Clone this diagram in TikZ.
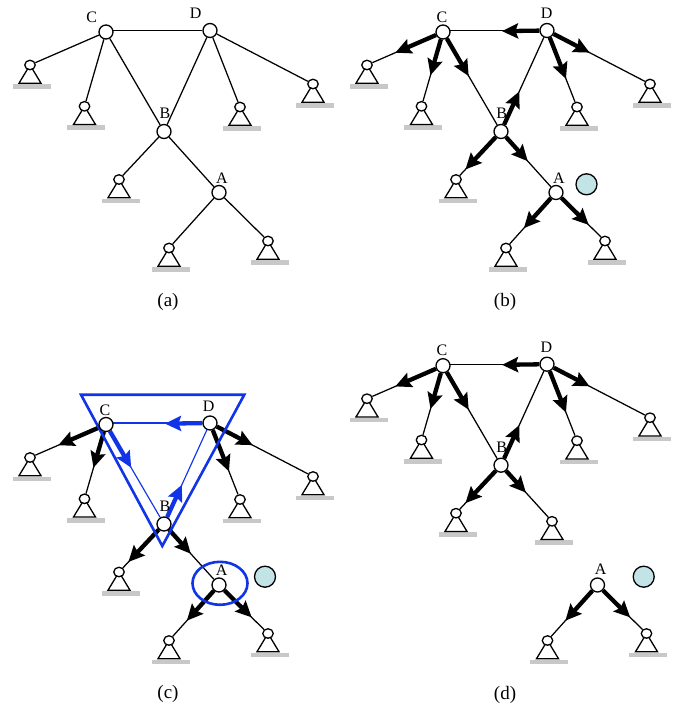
\documentclass[tikz,border=0pt]{standalone}
\usepackage{fontspec}
\setmainfont{Liberation Serif}
\usetikzlibrary{arrows.meta,calc,shapes.geometric}
\pgfdeclarelayer{back}
\pgfdeclarelayer{mid}
\pgfsetlayers{back,mid,main}
\definecolor{tealfill}{HTML}{C2E4E6}
\definecolor{barcol}{HTML}{C8C8C8}
\definecolor{loopblue}{HTML}{1034E6}
\tikzset{
  jointnode/.style={circle,draw=black,fill=white,line width=1.3pt,minimum size=14pt,inner sep=0pt},
  pinnode/.style={ellipse,draw=black,fill=white,line width=1.3pt,minimum width=10.5pt,minimum height=9.5pt,inner sep=0pt},
  linkline/.style={draw=black,line width=1.25pt},
  bluelink/.style={draw=loopblue,line width=1.15pt},
  heavyline/.style={line width=4.3pt,-{Stealth[length=16pt,width=15pt,inset=2.5pt]}},
  labeltext/.style={inner sep=0pt,font=\fontsize{16}{18}\selectfont},
  captiontext/.style={inner sep=0pt,font=\fontsize{19}{21}\selectfont},
  ballnode/.style={circle,draw=black,fill=tealfill,line width=1.3pt,minimum size=21pt,inner sep=0pt},
  loopline/.style={draw=loopblue,line width=2.6pt,line join=miter},
}
% name, x, y
\newcommand{\pivotat}[3]{%
  \node[pinnode] (#1) at (#2,#3) {};
  \begin{pgfonlayer}{back}
    \fill[barcol] ($(#1)+(-17.5,19)$) rectangle ($(#1)+(20.5,23.7)$);
    \draw[black,line width=1.3pt,line join=miter] ($(#1)+(-11,18.2)$) -- (#1.center) -- ($(#1)+(11,18.2)$) -- cycle;
  \end{pgfonlayer}}
% heavy part: colour, from, to, distance
\newcommand{\force}[4][black]{%
  \begin{pgfonlayer}{back}
    \draw[#1,heavyline] (#2) -- ($(#2)!#4pt!(#3)$);
  \end{pgfonlayer}}
\newcommand{\thinlink}[3][linkline]{%
  \begin{pgfonlayer}{back}
    \draw[#1] (#2) -- (#3);
  \end{pgfonlayer}}
% horizontal bar between C and D
\newcommand{\topbar}[1][linkline]{%
  \begin{pgfonlayer}{back}
    \draw[#1] (D) -- (D -| C);
  \end{pgfonlayer}}
\newcommand{\upperpart}{%
  \node[jointnode] (C) at (106,32) {};
  \node[jointnode] (D) at (210,30.5) {};
  \node[jointnode] (B) at (164,131.5) {};
  \pivotat{p1}{30}{65}
  \pivotat{p2}{84.5}{106.3}
  \pivotat{p3}{119}{179.5}
  \pivotat{p6}{240}{107}
  \pivotat{p7}{313}{84}
}
\newcommand{\lowerpart}{%
  \node[jointnode] (A) at (219,192.5) {};
  \pivotat{p4}{169}{248}
  \pivotat{p5}{268}{241}
}
\newcommand{\upperthin}{%
  \thinlink{C}{p1}\thinlink{C}{p2}\thinlink{D}{p6}\thinlink{D}{p7}\thinlink{B}{p3}}
\newcommand{\lowerthin}{\thinlink{A}{p4}\thinlink{A}{p5}}
\newcommand{\outerforces}{%
  \force{C}{p1}{52}\force{C}{p2}{45}\force{D}{p6}{52}\force{D}{p7}{48}\force{B}{p3}{52}}
\newcommand{\lowerforces}{\force{A}{p4}{48}\force{A}{p5}{46}}
\begin{document}
\begin{tikzpicture}[x=1pt,y=-1pt]
\useasboundingbox (0,0) rectangle (678,709);
% ---------- (a)
\begin{scope}[name prefix=a-]
  \upperpart\lowerpart\upperthin\lowerthin
  \topbar\thinlink{C}{B}\thinlink{D}{B}\thinlink{B}{A}
  \node[labeltext] (lC) at (91.7,17) {C};
  \node[labeltext] (lD) at (195.7,13.5) {D};
  \node[labeltext] (lB) at (165,113) {B};
  \node[labeltext] (lA) at (222,178) {A};
  \node[captiontext] (captext) at (168,302) {(a)};
\end{scope}
% ---------- (b)
\begin{scope}[shift={(337,0)},name prefix=b-]
  \upperpart\lowerpart\upperthin\lowerthin\outerforces\lowerforces
  \topbar\thinlink{C}{B}\thinlink{D}{B}\thinlink{B}{A}
  \force{D}{C}{45}\force{C}{B}{51}\force{B}{D}{44}\force{B}{A}{40}
  \node[labeltext] (lC) at (105,17) {C};
  \node[labeltext] (lD) at (209.7,13.5) {D};
  \node[labeltext] (lB) at (164.7,113) {B};
  \node[labeltext] (lA) at (222,178) {A};
  \node[ballnode] (m) at (249.5,184.3) {};
  \node[captiontext] (captext) at (168,302) {(b)};
\end{scope}
% ---------- (c)
\begin{scope}[shift={(0,392.5)},name prefix=c-]
  \upperpart\lowerpart\upperthin\lowerthin\outerforces\lowerforces
  \topbar[bluelink]\thinlink[bluelink]{C}{B}\thinlink[bluelink]{D}{B}\thinlink{B}{A}
  \force[loopblue]{D}{C}{45}\force[loopblue]{C}{B}{50}\force[loopblue]{B}{D}{43}\force{B}{A}{40}
  \coordinate (t1) at (81,2.2);
  \coordinate (t2) at (244.3,2.2);
  \coordinate (t3) at (162.3,153.5);
  \begin{pgfonlayer}{mid}
    \draw[loopline] (t1) -- (t2) -- (t3) -- cycle;
    \node[ellipse,draw=loopblue,line width=2.6pt,minimum width=55pt,minimum height=43pt,inner sep=0pt] (cut) at (220,190.8) {};
  \end{pgfonlayer}
  \node[labeltext] (lC) at (105,17.5) {C};
  \node[labeltext] (lD) at (208.7,14) {D};
  \node[labeltext] (lB) at (165,113.5) {B};
  \node[labeltext] (lA) at (221.7,178) {A};
  \node[ballnode] (m) at (265,184.2) {};
  \node[captiontext] (captext) at (168,301.5) {(c)};
\end{scope}
% ---------- (d) upper
\begin{scope}[shift={(337,333.7)},name prefix=d-]
  \upperpart\upperthin\outerforces
  \pivotat{p8}{215}{187.6}
  \topbar\thinlink{C}{B}\thinlink{D}{B}\thinlink{B}{p8}
  \force{D}{C}{45}\force{C}{B}{51}\force{B}{D}{44}\force{B}{p8}{37}
  \node[labeltext] (lC) at (105,17) {C};
  \node[labeltext] (lD) at (209.4,13.6) {D};
  \node[labeltext] (lB) at (164.7,113.6) {B};
  \node[captiontext] (captext) at (168,361.3) {(d)};
\end{scope}
% ---------- (d) lower
\begin{scope}[shift={(378.5,392.5)},name prefix=e-]
  \lowerpart\lowerthin\lowerforces
  \node[labeltext] (lA) at (222.2,176.8) {A};
  \node[ballnode] (m) at (265.2,184.2) {};
\end{scope}
\end{tikzpicture}
\end{document}
